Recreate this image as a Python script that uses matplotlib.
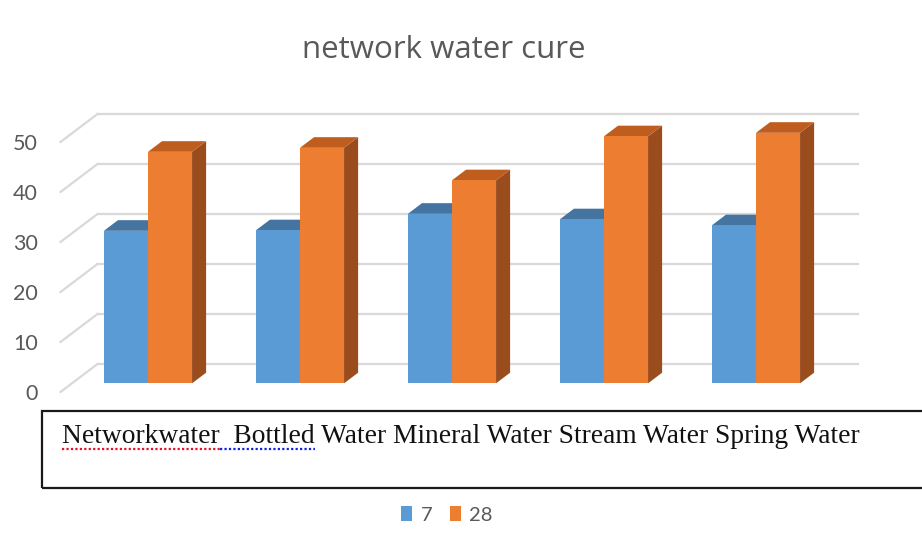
import matplotlib
matplotlib.use("Agg")
import matplotlib.pyplot as plt
from matplotlib.patches import Polygon, Rectangle, Patch
from matplotlib.lines import Line2D

# ---- data ----
categories = ["Networkwater ", "Bottled Water", "Mineral Water", "Stream Water", "Spring Water"]
series_names = ["7", "28"]
values_7 = [30.5, 30.6, 33.9, 32.8, 31.6]
values_28 = [46.3, 47.1, 40.6, 49.4, 50.1]
ticks = [0, 10, 20, 30, 40, 50]
title = "network water cure"

# ---- styles ----
front_cols = ["#5B9BD5", "#ED7D31"]
top_cols = ["#44749F", "#BE5D1E"]
side_cols = ["#3A6690", "#9A4C1C"]
grid_col = "#D9D9D9"
text_col = "#595959"
FONT = "Lato"

W_PX, H_PX = 922, 553
fig = plt.figure(figsize=(W_PX / 100, H_PX / 100), dpi=100)
ax = fig.add_axes([0, 0, 1, 1])
ax.axis("off")

# pixel mapping: px = X0 + SX*c ; py = Y0 - SY*v (from top)
X0, SX, Y0, SY = 136.5, 152.0, 392.0, 5.0
ax.set_xlim((0 - X0) / SX, (W_PX - X0) / SX)
ax.set_ylim((Y0 - H_PX) / SY, Y0 / SY)

DX = 37.0 / SX   # depth offset in category units
DV = 28.0 / SY   # depth offset in value units

def proj(c, v, d):
    return (c + DX * d, v + DV * d)

n = len(categories)
c_lo, c_hi = -0.5, n - 0.5

# grid: back wall lines + left wall diagonals
for t in ticks:
    a = proj(c_lo, t, 1); b = proj(c_hi, t, 1)
    ax.add_line(Line2D([a[0], b[0]], [a[1], b[1]], color=grid_col, lw=1.6, zorder=1))
    f = proj(c_lo, t, 0)
    ax.add_line(Line2D([f[0], a[0]], [f[1], a[1]], color=grid_col, lw=1.6, zorder=1))
    ax.text(c_lo - 0.148, t - 0.3, str(t), ha="right", va="center",
            fontsize=15.5, color=text_col, family=FONT)

# bars
BW = 0.29
d0, d1 = 0.31, 0.69
z = 2
for i in range(n):
    for s, vals in enumerate([values_7, values_28]):
        v = vals[i]
        left = i - BW + s * BW
        x0f, y0f = proj(left, 0, d0)
        side = [proj(left + BW, 0, d0), proj(left + BW, 0, d1),
                proj(left + BW, v, d1), proj(left + BW, v, d0)]
        ax.add_patch(Polygon(side, closed=True, fc=side_cols[s], ec="none", zorder=z))
        top = [proj(left, v, d0), proj(left + BW, v, d0),
               proj(left + BW, v, d1), proj(left, v, d1)]
        ax.add_patch(Polygon(top, closed=True, fc=top_cols[s], ec="none", zorder=z))
        ax.bar(x0f, v, width=BW, bottom=y0f, align="edge",
               color=front_cols[s], edgecolor="none", zorder=z + 0.5)
        z += 1

# title
fig.text(444 / W_PX, 1 - 50 / H_PX, title, ha="center", va="center",
         fontsize=22.5, color=text_col, family="Open Sans")

# category text box
bx0, by_top, by_bot = 42, 411, 488
fig.patches.append(Rectangle((bx0 / W_PX, 1 - by_bot / H_PX), 1.2,
                             (by_bot - by_top) / H_PX, transform=fig.transFigure,
                             fill=False, ec="#1a1a1a", lw=1.6, zorder=5))
CAT_FS = 19.8
label_str = " ".join(categories)
tx, ty = 62 / W_PX, 1 - 443 / H_PX
txt = fig.text(tx, ty, label_str, ha="left", va="baseline", fontsize=CAT_FS,
               color="#111111", family="Liberation Serif")

renderer = fig.canvas.get_renderer()
def width_of(s):
    t = fig.text(0, 0, s, fontsize=CAT_FS, family="Liberation Serif")
    w = t.get_window_extent(renderer).width
    t.remove()
    return w
w1 = width_of(categories[0].strip())
w2 = width_of(categories[0] + " " + categories[1].split()[0])
uy = 1 - 448.5 / H_PX
fig.lines.append(Line2D([tx, tx + w1 / W_PX], [uy, uy], color="#e8102a", lw=1.6,
                        ls=(0, (1, 1)), transform=fig.transFigure))
fig.lines.append(Line2D([tx + w1 / W_PX, tx + w2 / W_PX], [uy, uy], color="#1020e8", lw=1.6,
                        ls=(0, (1, 1)), transform=fig.transFigure))

# legend
handles = [Patch(fc=front_cols[0], ec="none"), Patch(fc=front_cols[1], ec="none")]
leg = fig.legend(handles, series_names, loc="center", bbox_to_anchor=(447 / W_PX, 1 - 515 / H_PX),
                 ncol=2, frameon=False, handlelength=0.55, handleheight=0.7,
                 handletextpad=0.4, columnspacing=0.9,
                 prop={"family": FONT, "size": 14.5})
for t in leg.get_texts():
    t.set_color(text_col)

fig.savefig("out.png", dpi=100)
